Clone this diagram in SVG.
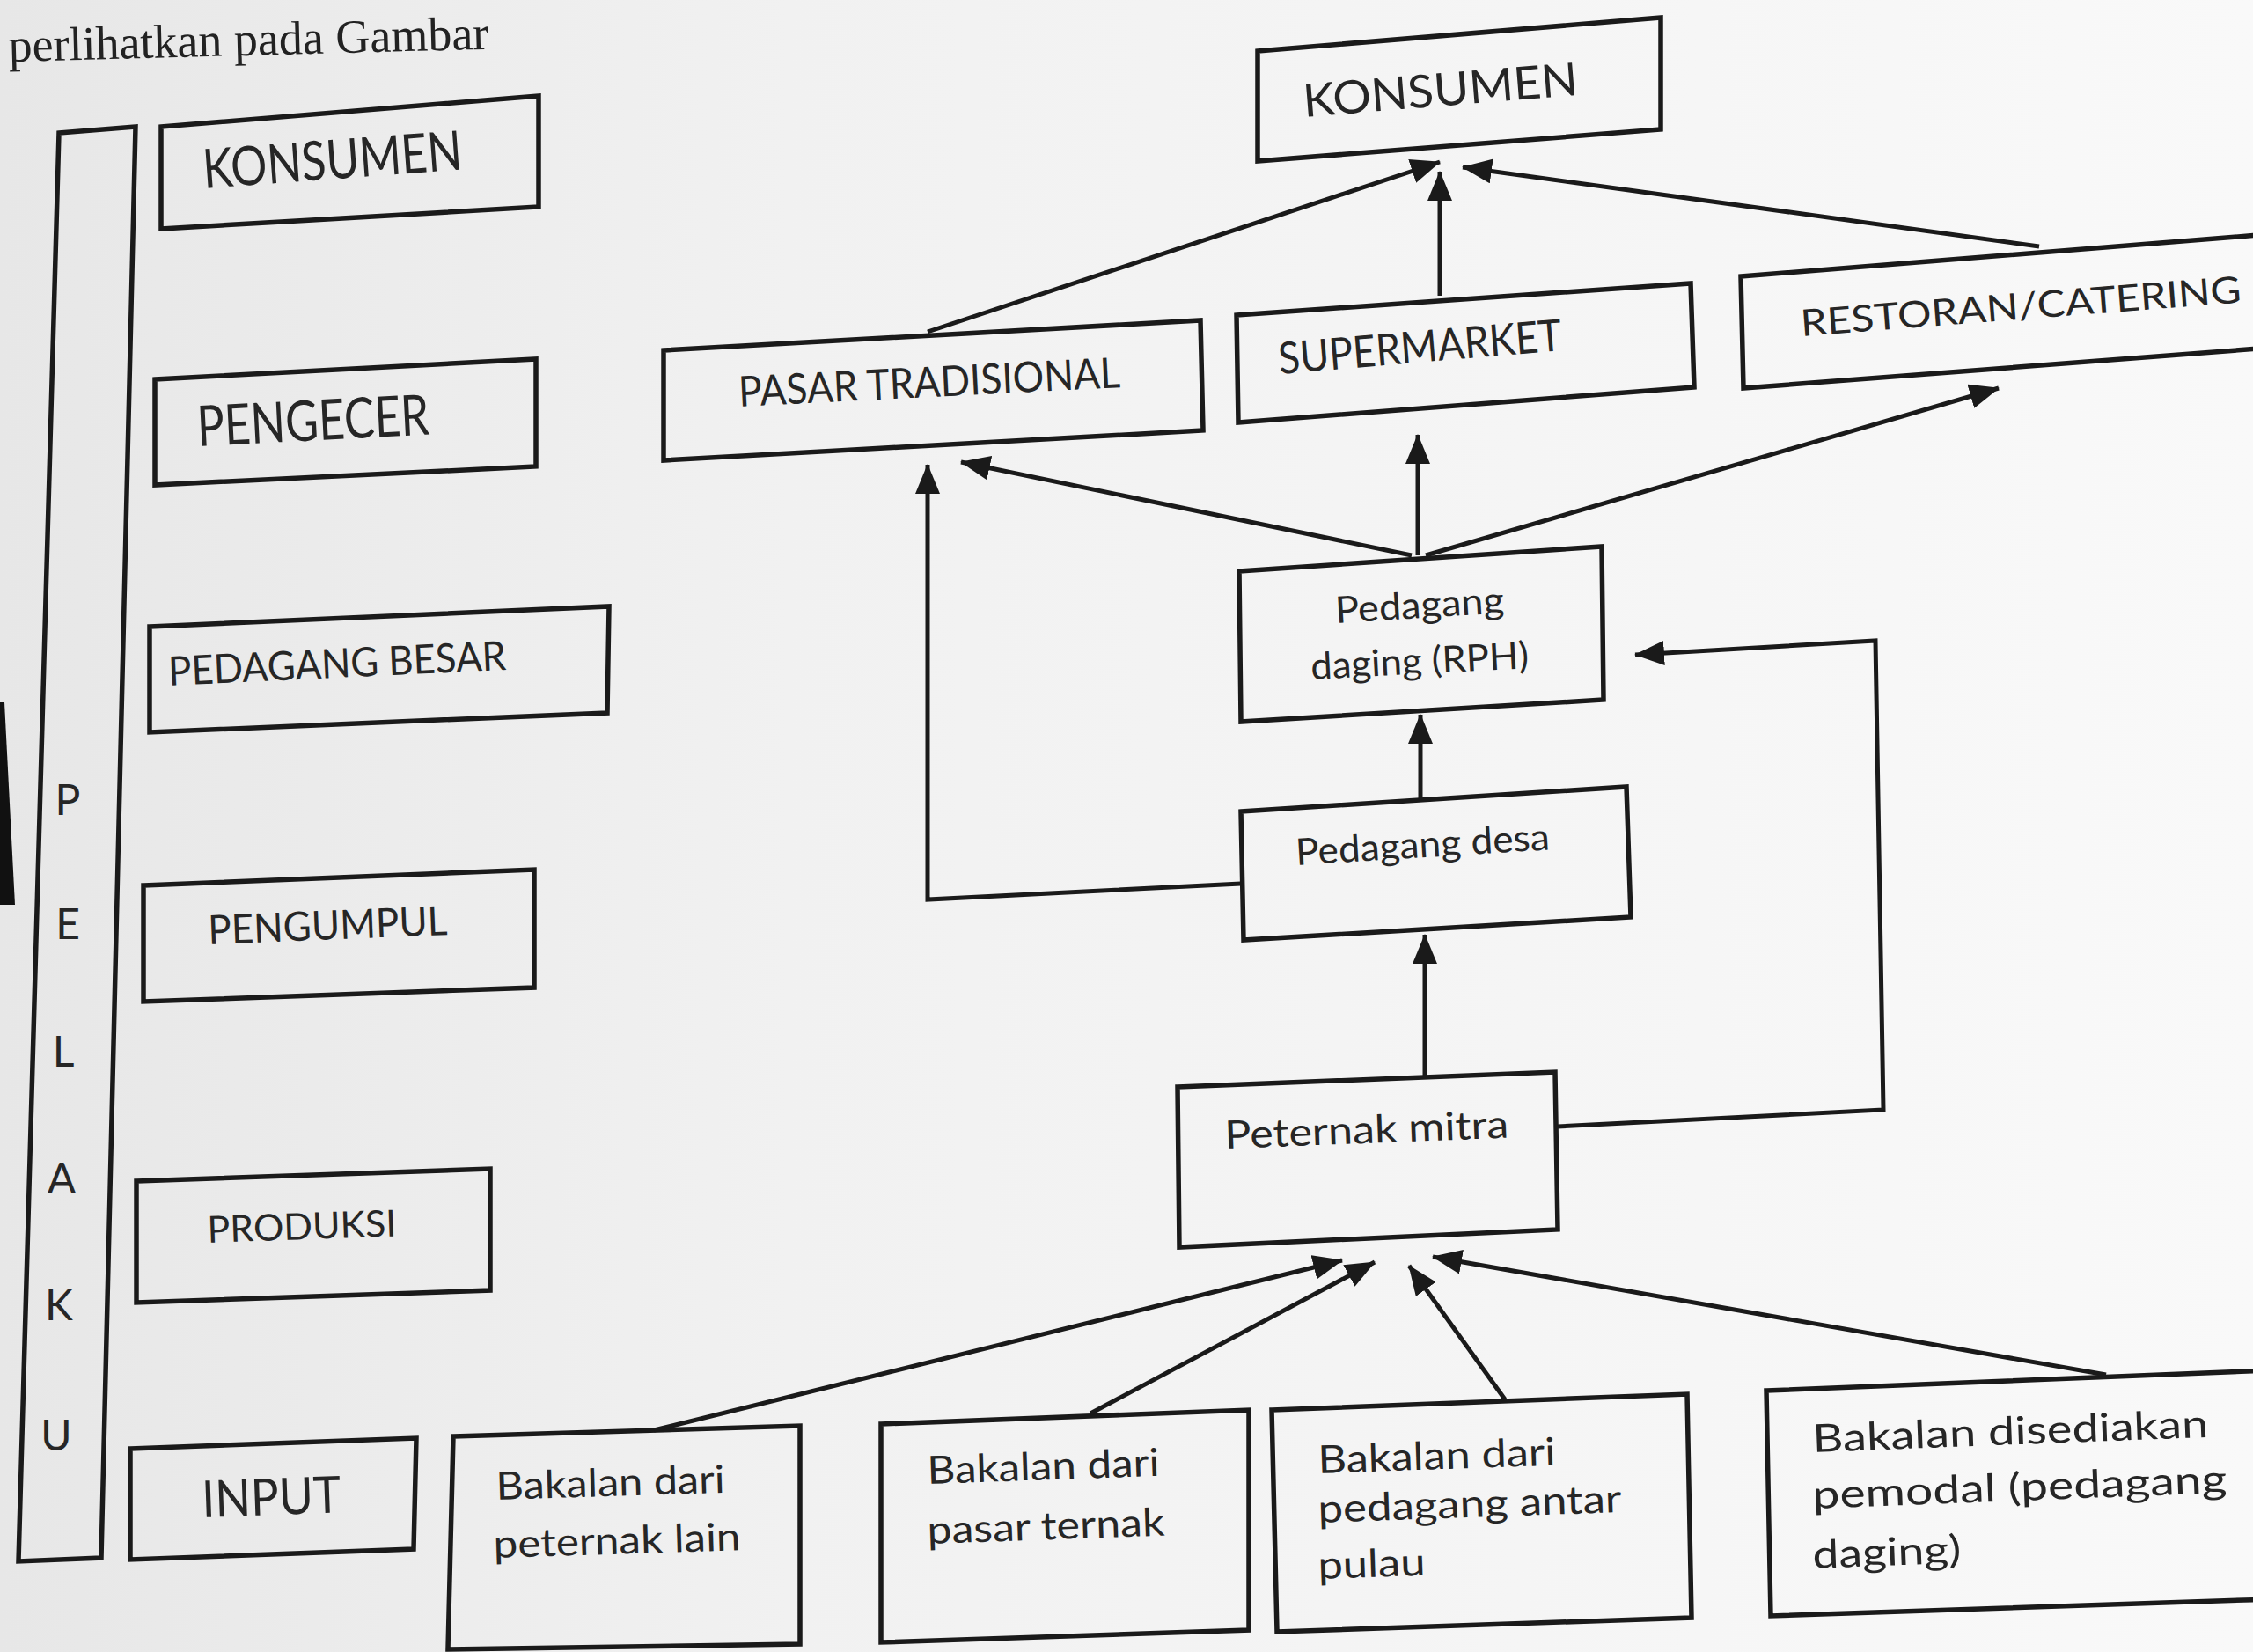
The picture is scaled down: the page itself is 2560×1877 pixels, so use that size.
<svg xmlns="http://www.w3.org/2000/svg" width="2560" height="1877" viewBox="0 0 2560 1877">
<defs>
<linearGradient id="bg" x1="0" y1="0" x2="1" y2="0">
<stop offset="0" stop-color="#e7e7e7"/>
<stop offset="0.35" stop-color="#f1f1f1"/>
<stop offset="1" stop-color="#f9f9f9"/>
</linearGradient>
<marker id="ah" markerUnits="userSpaceOnUse" markerWidth="34" markerHeight="28" refX="33" refY="14" orient="auto" viewBox="0 0 34 28">
<path d="M0,0 L34,14 L0,28 Z" fill="#1a1a1a"/>
</marker>
<style>
.box{fill:none;stroke:#1a1a1a;stroke-width:5.5;stroke-linejoin:miter}
.t{font-family:Lato,"Open Sans","Liberation Sans",sans-serif;fill:#262626}
.c{fill:none;stroke:#1a1a1a;stroke-width:5;marker-end:url(#ah)}
.s44{font-size:44px}
</style>
</defs>
<rect x="0" y="0" width="2560" height="1877" fill="url(#bg)"/>

<text x="10" y="70" transform="rotate(-1.5 10 70)" font-family="'Liberation Serif',serif" font-size="54" fill="#222">perlihatkan pada Gambar</text>
<polygon points="0,798 5,798 17,1028 0,1028" fill="#111"/>

<g id="pelaku">
<polygon class="box" points="67,151 154,144 115,1770 21,1774"/>
<text class="t" font-size="48" text-anchor="middle" x="77" y="926">P</text>
<text class="t" font-size="48" text-anchor="middle" x="77" y="1067">E</text>
<text class="t" font-size="48" text-anchor="middle" x="72" y="1212">L</text>
<text class="t" font-size="48" text-anchor="middle" x="70" y="1356">A</text>
<text class="t" font-size="48" text-anchor="middle" x="67" y="1500">K</text>
<text class="t" font-size="48" text-anchor="middle" x="64" y="1648">U</text>
</g>

<g id="lvl-konsumen">
<polygon class="box" points="183,144 612,109 612,235 183,260"/>
<text class="t" x="232" y="214" font-size="62" textLength="295" lengthAdjust="spacingAndGlyphs" transform="rotate(-4.2 232 214)">KONSUMEN</text>
</g>
<g id="lvl-pengecer">
<polygon class="box" points="176,431 609,408 609,530 176,551"/>
<text class="t" x="225" y="507" font-size="64" textLength="264" lengthAdjust="spacingAndGlyphs" transform="rotate(-2.9 225 507)">PENGECER</text>
</g>
<g id="lvl-pedagang-besar">
<polygon class="box" points="170,712 692,689 690,810 170,832"/>
<text class="t" x="192" y="779" font-size="46" textLength="384" lengthAdjust="spacingAndGlyphs" transform="rotate(-2.7 192 779)">PEDAGANG BESAR</text>
</g>
<g id="lvl-pengumpul">
<polygon class="box" points="163,1006 607,988 607,1122 163,1138"/>
<text class="t" x="237" y="1073" font-size="46" textLength="272" lengthAdjust="spacingAndGlyphs" transform="rotate(-2.3 237 1073)">PENGUMPUL</text>
</g>
<g id="lvl-produksi">
<polygon class="box" points="155,1342 557,1328 557,1466 155,1480"/>
<text class="t" x="236" y="1412" font-size="42" textLength="215" lengthAdjust="spacingAndGlyphs" transform="rotate(-2 236 1412)">PRODUKSI</text>
</g>
<g id="lvl-input">
<polygon class="box" points="148,1646 473,1634 470,1760 148,1772"/>
<text class="t" x="230" y="1724" font-size="58" textLength="158" lengthAdjust="spacingAndGlyphs" transform="rotate(-2 230 1724)">INPUT</text>
</g>

<g id="konsumen">
<polygon class="box" points="1429,58 1887,20 1887,147 1429,183"/>
<text class="t" x="1482" y="133" font-size="52" textLength="313" lengthAdjust="spacingAndGlyphs" transform="rotate(-4.6 1482 133)">KONSUMEN</text>
</g>
<g id="pasar-tradisional">
<polygon class="box" points="754,398 1364,364 1367,489 754,523"/>
<text class="t" x="840" y="462" font-size="48" textLength="434" lengthAdjust="spacingAndGlyphs" transform="rotate(-2.9 840 462)">PASAR TRADISIONAL</text>
</g>
<g id="supermarket">
<polygon class="box" points="1405,358 1921,322 1925,440 1407,480"/>
<text class="t" x="1454" y="425" font-size="50" textLength="323" lengthAdjust="spacingAndGlyphs" transform="rotate(-4.8 1454 425)">SUPERMARKET</text>
</g>
<g id="restoran">
<polygon class="box" points="1978,314 2580,266 2580,395 1981,441"/>
<text class="t" x="2047" y="382" font-size="42" textLength="502" lengthAdjust="spacingAndGlyphs" transform="rotate(-4.4 2047 382)">RESTORAN/CATERING</text>
</g>
<g id="pedagang-daging">
<polygon class="box" points="1408,649 1820,621 1822,795 1410,820"/>
<text class="t" x="1518" y="708" font-size="42" textLength="192" lengthAdjust="spacingAndGlyphs" transform="rotate(-3.5 1518 708)">Pedagang</text>
<text class="t" x="1490" y="772" font-size="42" textLength="248" lengthAdjust="spacingAndGlyphs" transform="rotate(-3 1490 772)">daging (RPH)</text>
</g>
<g id="pedagang-desa">
<polygon class="box" points="1410,922 1848,894 1853,1042 1413,1068"/>
<text class="t" x="1473" y="983" font-size="42" textLength="289" lengthAdjust="spacingAndGlyphs" transform="rotate(-3.5 1473 983)">Pedagang desa</text>
</g>
<g id="peternak-mitra">
<polygon class="box" points="1338,1235 1767,1218 1770,1397 1340,1417"/>
<text class="t" x="1392" y="1305" font-size="44" textLength="323" lengthAdjust="spacingAndGlyphs" transform="rotate(-2.2 1392 1305)">Peternak mitra</text>
</g>
<g id="bakalan-peternak">
<polygon class="box" points="515,1632 909,1620 909,1868 509,1874"/>
<text class="t s44" x="564" y="1704" textLength="260" lengthAdjust="spacingAndGlyphs" transform="rotate(-1.8 564 1704)">Bakalan dari</text>
<text class="t s44" x="561" y="1770" textLength="281" lengthAdjust="spacingAndGlyphs" transform="rotate(-1.8 561 1770)">peternak lain</text>
</g>
<g id="bakalan-pasar">
<polygon class="box" points="1001,1618 1419,1602 1419,1852 1001,1866"/>
<text class="t s44" x="1054" y="1686" textLength="264" lengthAdjust="spacingAndGlyphs" transform="rotate(-2 1054 1686)">Bakalan dari</text>
<text class="t s44" x="1054" y="1754" textLength="270" lengthAdjust="spacingAndGlyphs" transform="rotate(-2 1054 1754)">pasar ternak</text>
</g>
<g id="bakalan-pedagang">
<polygon class="box" points="1445,1602 1917,1584 1922,1838 1451,1854"/>
<text class="t s44" x="1498" y="1674" textLength="270" lengthAdjust="spacingAndGlyphs" transform="rotate(-2 1498 1674)">Bakalan dari</text>
<text class="t s44" x="1498" y="1730" textLength="345" lengthAdjust="spacingAndGlyphs" transform="rotate(-2 1498 1730)">pedagang antar</text>
<text class="t s44" x="1498" y="1794" textLength="122" lengthAdjust="spacingAndGlyphs" transform="rotate(-2 1498 1794)">pulau</text>
</g>
<g id="bakalan-pemodal">
<polygon class="box" points="2007,1580 2580,1557 2580,1817 2012,1836"/>
<text class="t s44" x="2060" y="1650" textLength="450" lengthAdjust="spacingAndGlyphs" transform="rotate(-2.2 2060 1650)">Bakalan disediakan</text>
<text class="t s44" x="2060" y="1714" textLength="471" lengthAdjust="spacingAndGlyphs" transform="rotate(-2.2 2060 1714)">pemodal (pedagang</text>
<text class="t s44" x="2060" y="1782" textLength="169" lengthAdjust="spacingAndGlyphs" transform="rotate(-2.2 2060 1782)">daging)</text>
</g>

<g id="connectors">
<path class="c" d="M1054,377 L1636,184"/>
<path class="c" d="M1636,336 L1636,195"/>
<path class="c" d="M2317,280 L1662,190"/>
<path class="c" d="M1604,631 L1092,525"/>
<path class="c" d="M1611,631 L1611,494"/>
<path class="c" d="M1620,631 L2271,441"/>
<path class="c" d="M1614,907 L1614,812"/>
<path class="c" d="M1410,1004 L1054,1022 L1054,528"/>
<path class="c" d="M1619,1222 L1619,1062"/>
<path class="c" d="M1770,1280 L2140,1261 L2131,728 L1858,744"/>
<path class="c" d="M743,1625 L1525,1432"/>
<path class="c" d="M1239,1606 L1562,1434"/>
<path class="c" d="M1710,1590 L1601,1438"/>
<path class="c" d="M2393,1562 L1628,1428"/>
</g>
</svg>
